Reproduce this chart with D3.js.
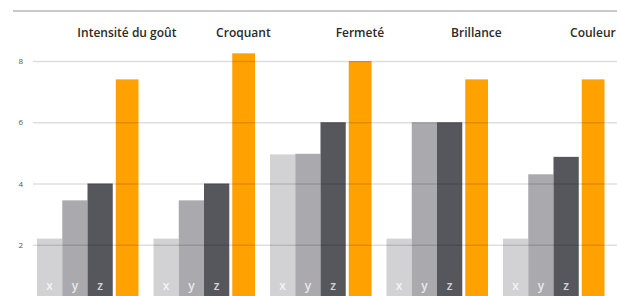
<!DOCTYPE html>
<html>
<head>
<meta charset="utf-8">
<script src="https://cdn.jsdelivr.net/npm/d3@7"></script>
<style>
  body { margin: 0; background: #fff; }
  svg { display: block; font-family: "Open Sans", sans-serif; }
</style>
</head>
<body>
<div id="chart"></div>
<script>
const categories = ["Intensité du goût", "Croquant", "Fermeté", "Brillance", "Couleur"];
const seriesKeys = ["x", "y", "z", "ref"];
const xValues = [2.2, 2.2, 4.95, 2.2, 2.2];
const yValues = [3.45, 3.45, 4.97, 6.0, 4.3];
const zValues = [4.0, 4.0, 6.0, 6.0, 4.87];
const refValues = [7.4, 8.25, 8.0, 7.4, 7.4];
const yTicks = [2, 4, 6, 8];

const width = 617, height = 296;
const colors = { x: "#d2d2d4", y: "#aaaaae", z: "#56565d", ref: "#ffa100" };

const data = categories.map((c, i) => ({
  cat: c,
  vals: [
    { key: "x", v: xValues[i] },
    { key: "y", v: yValues[i] },
    { key: "z", v: zValues[i] },
    { key: "ref", v: refValues[i] }
  ]
}));

const svg = d3.select("#chart").append("svg")
  .attr("width", width)
  .attr("height", height);

const x0 = d3.scaleBand()
  .domain(categories)
  .range([37, 604])
  .paddingInner(0.133)
  .paddingOuter(0);

const x1 = d3.scaleBand()
  .domain(seriesKeys)
  .range([0, x0.bandwidth()]);

const y = d3.scaleLinear()
  .domain([0, 8])
  .range([306, 61]);

// top rule
svg.append("line")
  .attr("x1", 13).attr("x2", width)
  .attr("y1", 11).attr("y2", 11)
  .attr("stroke", "#c9c9c9")
  .attr("stroke-width", 2);

// category titles
svg.append("g").selectAll("text")
  .data(categories)
  .enter().append("text")
  .attr("x", d => x0(d) + x0.bandwidth() * 0.89)
  .attr("y", 37)
  .attr("text-anchor", "middle")
  .attr("font-size", "12px")
  .attr("font-weight", 600)
  .attr("fill", "#2a2a2a")
  .text(d => d);

const groups = svg.append("g").selectAll("g")
  .data(data)
  .enter().append("g")
  .attr("transform", d => `translate(${x0(d.cat)},0)`);

groups.selectAll("rect")
  .data(d => d.vals)
  .enter().append("rect")
  .attr("x", d => d.key == "ref" ? x1(d.key) + 3 : x1(d.key))
  .attr("width", d => d.key == "ref" ? x1.bandwidth() - 2.5 : x1.bandwidth())
  .attr("y", d => y(d.v))
  .attr("height", d => y(0) - y(d.v))
  .attr("fill", d => colors[d.key]);

groups.selectAll("text")
  .data(d => d.vals.filter(v => v.key != "ref"))
  .enter().append("text")
  .attr("x", d => x1(d.key) + x1.bandwidth() / 2)
  .attr("y", 290)
  .attr("text-anchor", "middle")
  .attr("font-size", "12px")
  .attr("font-weight", 600)
  .attr("fill", "#fff")
  .attr("fill-opacity", 0.75)
  .text(d => d.key);

// gridlines drawn over bars
const axis = d3.axisLeft(y)
  .tickValues(yTicks)
  .tickSize(-(width - 33))
  .tickPadding(10)
  .tickFormat(d3.format("d"));

const ax = svg.append("g")
  .attr("transform", "translate(33,0)")
  .call(axis);

ax.select(".domain").remove();
ax.selectAll(".tick line")
  .attr("stroke", "#000")
  .attr("stroke-opacity", 0.13)
  .attr("stroke-width", 1.5);
ax.selectAll(".tick text")
  .attr("font-size", "8px")
  .attr("fill", "#555")
  .attr("font-family", "Open Sans, sans-serif");
</script>
</body>
</html>
